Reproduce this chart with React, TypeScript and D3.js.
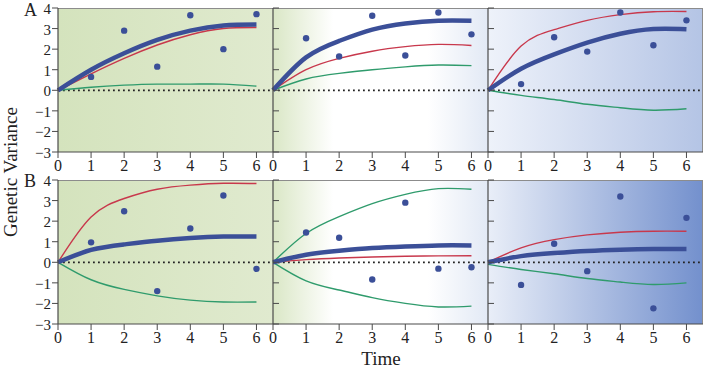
import React from "react";
import * as d3 from "d3";

// time points and tick labels
const times = [0, 1, 2, 3, 4, 5, 6];
const xTicks = [0, 1, 2, 3, 4, 5, 6];
const yTicks = [-3, -2, -1, 0, 1, 2, 3, 4];
const rowLabels = ["A", "B"];

// row A curves (blue = total, red, green) and observed points
const blueA = [
  [0, 1.0, 1.8, 2.45, 2.9, 3.15, 3.2],
  [0, 1.6, 2.4, 2.95, 3.25, 3.38, 3.38],
  [0, 1.05, 1.75, 2.32, 2.75, 2.98, 2.97],
];
const redA = [
  [0, 0.8, 1.55, 2.2, 2.7, 3.0, 3.05],
  [0, 1.0, 1.55, 1.9, 2.12, 2.23, 2.18],
  [0, 2.15, 2.95, 3.4, 3.68, 3.82, 3.83],
];
const greenA = [
  [0, 0.15, 0.25, 0.3, 0.3, 0.3, 0.2],
  [0, 0.55, 0.82, 1.0, 1.14, 1.23, 1.2],
  [0, -0.25, -0.45, -0.68, -0.85, -0.97, -0.9],
];
const dotsA = [
  [null, 0.65, 2.9, 1.15, 3.65, 2.0, 3.7],
  [null, 2.53, 1.64, 3.62, 1.69, 3.78, 2.72],
  [null, 0.3, 2.58, 1.88, 3.78, 2.19, 3.4],
];

// row B
const blueB = [
  [0, 0.6, 0.87, 1.05, 1.18, 1.25, 1.25],
  [0, 0.37, 0.56, 0.69, 0.77, 0.82, 0.82],
  [0, 0.3, 0.45, 0.55, 0.61, 0.64, 0.64],
];
const redB = [
  [0, 2.2, 3.1, 3.55, 3.75, 3.84, 3.83],
  [0, 0.13, 0.21, 0.26, 0.29, 0.31, 0.32],
  [0, 0.7, 1.1, 1.33, 1.46, 1.51, 1.51],
];
const greenB = [
  [0, -0.85, -1.32, -1.63, -1.84, -1.93, -1.93],
  [0, -0.9, -1.35, -1.72, -2.0, -2.17, -2.13],
  [-0.1, -0.35, -0.56, -0.79, -0.96, -1.08, -1.0],
];
const greenB2upper = [0, 1.4, 2.22, 2.85, 3.3, 3.58, 3.55];
const dotsB = [
  [null, 0.97, 2.48, -1.4, 1.64, 3.25, -0.32],
  [null, 1.45, 1.19, -0.84, 2.9, -0.31, -0.24],
  [null, -1.1, 0.9, -0.43, 3.2, -2.24, 2.16],
];

const W = 707, H = 368;
const left = 58, pw = 215;
const rows = [
  { top: 8, bottom: 152 },
  { top: 180, bottom: 324 },
];

const BLUE = "#3b4f98";
const RED = "#c8384c";
const GREEN = "#2f9b6c";
const AXIS = "#4a4a4a";
const txt = { fontFamily: "Liberation Serif, DejaVu Serif, serif" };

// background gradients: [offset, color] per panel, per row
const bgStops = [
  [
    [[0, "#d4e3bd"], [1, "#e0eacf"]],
    [[0, "#dae7c6"], [0.28, "#ffffff"], [0.72, "#ffffff"], [1, "#e2e9f5"]],
    [[0, "#eef2fa"], [1, "#b4c4e5"]],
  ],
  [
    [[0, "#d4e3bd"], [1, "#e0eacf"]],
    [[0, "#dae7c6"], [0.28, "#ffffff"], [0.72, "#ffffff"], [1, "#e2e9f5"]],
    [[0, "#e9eef8"], [1, "#7390cd"]],
  ],
];

function Panel({ r, c }) {
  const x = d3.scaleLinear().domain([0, 6.5]).range([left + c * pw, left + (c + 1) * pw]);
  const y = d3.scaleLinear().domain([-3, 4]).range([rows[r].bottom, rows[r].top]);
  const line = d3
    .line()
    .x((d) => x(d[0]))
    .y((d) => y(d[1]))
    .curve(d3.curveNatural);
  const toPts = (vals) => times.map((t, i) => [t, vals[i]]);

  const blue = r === 0 ? blueA[c] : blueB[c];
  const red = r === 0 ? redA[c] : redB[c];
  const greens = r === 0 ? [greenA[c]] : c === 1 ? [greenB[c], greenB2upper] : [greenB[c]];
  const dots = r === 0 ? dotsA[c] : dotsB[c];
  const gid = `bg${r}${c}`;
  const [x0, x1] = x.range();
  const [yb, yt] = y.range();

  return (
    <g>
      <defs>
        <linearGradient id={gid} x1="0" x2="1" y1="0" y2="0">
          {bgStops[r][c].map((s, i) => (
            <stop key={i} offset={s[0]} stopColor={s[1]} />
          ))}
        </linearGradient>
      </defs>
      <rect x={x0} y={yt} width={x1 - x0} height={yb - yt} fill={`url(#${gid})`} />
      {/* top border */}
      <line x1={x0} x2={x1} y1={yt + 0.5} y2={yt + 0.5} stroke="#8c8c8c" />
      {c === 2 && <line x1={x1 - 0.5} x2={x1 - 0.5} y1={yt} y2={yb} stroke="#8c8c8c" />}
      {/* zero line */}
      <line x1={x0} x2={x1} y1={y(0)} y2={y(0)} stroke="#222" strokeWidth={1.8} strokeDasharray="1.8,3.2" />
      {greens.map((g, i) => (
        <path key={i} d={line(toPts(g))} fill="none" stroke={GREEN} strokeWidth={1.4} />
      ))}
      <path d={line(toPts(red))} fill="none" stroke={RED} strokeWidth={1.4} />
      <path d={line(toPts(blue))} fill="none" stroke={BLUE} strokeWidth={4.5} />
      {times.map((t, i) =>
        dots[i] == null ? null : <circle key={i} cx={x(t)} cy={y(dots[i])} r={3.2} fill={BLUE} />
      )}
      {/* y axis */}
      <line x1={x0} x2={x0} y1={yt} y2={yb} stroke={AXIS} strokeWidth={1.2} />
      {yTicks.map((v) => (
        <g key={v}>
          <line x1={c === 0 ? x0 - 6 : x0} x2={c === 0 ? x0 : x0 + 6} y1={y(v)} y2={y(v)} stroke={AXIS} />
          {c === 0 && (
            <text x={x0 - 7} y={y(v)} dy="0.4em" textAnchor="end" fontSize={15} style={txt} fill="#222">
              {d3.format("d")(v)}
            </text>
          )}
        </g>
      ))}
      {/* x axis */}
      <line x1={x0} x2={x1} y1={yb} y2={yb} stroke={AXIS} strokeWidth={1.2} />
      {xTicks.map((v) => (
        <g key={v}>
          <line x1={x(v)} x2={x(v)} y1={yb} y2={yb + 6} stroke={AXIS} />
          <text x={x(v)} y={yb + 19} textAnchor="middle" fontSize={16} style={txt} fill="#222">
            {v}
          </text>
        </g>
      ))}
    </g>
  );
}

export default function App() {
  return (
    <svg width={W} height={H} style={{ position: "absolute", left: 0, top: 0, background: "#fff" }}>
      {rows.map((row, r) =>
        [0, 1, 2].map((c) => <Panel key={`${r}${c}`} r={r} c={c} />)
      )}
      {rowLabels.map((lab, r) => (
        <text key={lab} x={24} y={rows[r].top + 7 + (r === 0 ? 1 : 0)} fontSize={18} style={txt} fill="#222">
          {lab}
        </text>
      ))}
      <text
        transform={`translate(17,172) rotate(-90)`}
        textAnchor="middle"
        fontSize={19}
        style={txt}
        fill="#222"
      >
        Genetic Variance
      </text>
      <text x={381} y={365} textAnchor="middle" fontSize={19} style={txt} fill="#222">
        Time
      </text>
    </svg>
  );
}
